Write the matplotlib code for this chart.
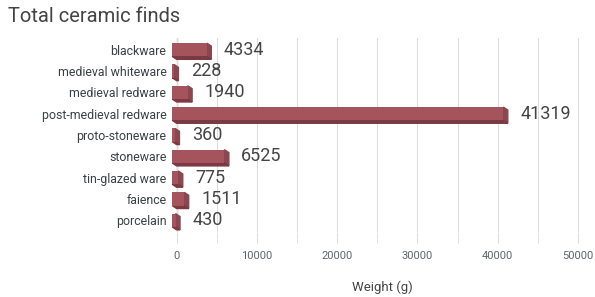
import matplotlib.pyplot as plt
from matplotlib.patches import Polygon
import numpy as np

plt.rcParams['font.family'] = ['Roboto', 'DejaVu Sans']

categories = ["blackware", "medieval whiteware", "medieval redware",
              "post-medieval redware", "proto-stoneware", "stoneware",
              "tin-glazed ware", "faience", "porcelain"]
weights = [4334, 228, 1940, 41319, 360, 6525, 775, 1511, 430]
xticks = [0, 10000, 20000, 30000, 40000, 50000]

face = "#a5535c"
dark = "#7b3941"
side = "#8c4650"

fig = plt.figure(figsize=(5.95, 2.97), dpi=100)
ax = fig.add_axes([0.288, 0.219, 0.71, 0.653])

y = np.arange(len(categories))
h = 0.62
dx = 550      # depth in data units (x)
dy = 0.14     # depth in rows (y)
x0 = -600

for yi, v in zip(y, weights):
    # side (right) face
    ax.add_patch(Polygon([[x0 + v, yi - h / 2], [x0 + v + dx, yi - h / 2 + dy],
                          [x0 + v + dx, yi + h / 2 + dy], [x0 + v, yi + h / 2]],
                         closed=True, color=side, zorder=2))
    # bottom face
    ax.add_patch(Polygon([[x0, yi + h / 2], [x0 + v, yi + h / 2],
                          [x0 + v + dx, yi + h / 2 + dy], [x0 + dx, yi + h / 2 + dy]],
                         closed=True, color=dark, zorder=2))
    ax.text(v + 1500, yi, str(v), va="center", ha="left", fontsize=13, color="#444444")

ax.barh(y, weights, left=x0, height=h, color=face, zorder=3)

ax.set_xlim(-700, 52000)
ax.set_ylim(len(categories) - 0.45, -0.55)
ax.set_yticks(y)
ax.set_yticklabels(categories, fontsize=8.9, color="#3c4043")
ax.set_xticks(xticks)
ax.set_xticklabels([str(t) for t in xticks], fontsize=8, color="#5f6368")
ax.set_xticks(np.arange(5000, 55000, 10000), minor=True)
ax.grid(axis="x", which="both", color="#dddddd", linewidth=0.8, zorder=0)
ax.tick_params(axis="both", which="both", length=0)
ax.tick_params(axis="x", which="both", length=8, color="#dddddd", pad=6)
for s in ax.spines.values():
    s.set_visible(False)
ax.axvline(0, color="#333333", linewidth=0.8, zorder=1)
ax.set_xlabel("Weight (g)", fontsize=9.5, color="#444444", labelpad=14)

fig.text(0.013, 0.925, "Total ceramic finds", fontsize=14.5, color="#444444")

fig.savefig("out.png", dpi=100)
